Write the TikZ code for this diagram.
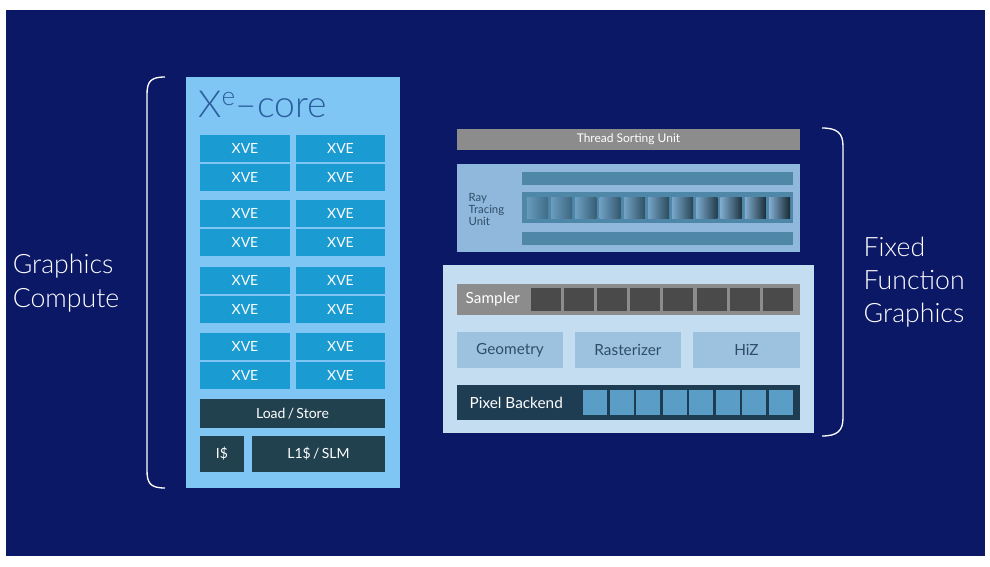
\documentclass[tikz,border=0pt]{standalone}
\usepackage{fontspec}
\setmainfont{Lato}
\newfontfamily\lightfont{Lato Light}
\definecolor{bg}{HTML}{0B1866}
\definecolor{panel}{HTML}{80C6F4}
\definecolor{xve}{HTML}{1A9BD1}
\definecolor{dark}{HTML}{22414F}
\definecolor{tsu}{HTML}{8C8C8C}
\definecolor{rtbox}{HTML}{90B8DC}
\definecolor{rtbar}{HTML}{4E87A8}
\definecolor{ffbox}{HTML}{C4DDF1}
\definecolor{gbox}{HTML}{9DC2E0}
\definecolor{gtext}{HTML}{2E4E68}
\definecolor{samcell}{HTML}{4A4A4A}
\definecolor{pbbar}{HTML}{1E3C52}
\definecolor{pbcell}{HTML}{5A9DC6}
\definecolor{ttl}{HTML}{2A5E9E}
\tikzset{
  blk/.style={draw=none,inner sep=0pt,anchor=north west},
  wtext/.style={text=white,font=\fontsize{10.5}{12}\selectfont},
  brace/.style={draw=white,line width=1pt}
}
\begin{document}
\begin{tikzpicture}[x=0.75pt,y=-0.75pt]
\useasboundingbox (0,0) rectangle (990,567);
\fill[white] (0,0) rectangle (990,567);
\fill[bg] (6,10) rectangle (985,556);
% Xe-core
\fill[panel] (186,77) rectangle (400,488);
\node[anchor=west,text=ttl,font=\lightfont\fontsize{28}{32}\selectfont,inner sep=0pt] (title) at (198,104) {X\textsuperscript{e}–core};
\foreach \y [count=\i] in {135,164,200,229,267,296,333,362}{
  \fill[xve] (200,\y) rectangle (290,\y+27);
  \fill[xve] (296,\y) rectangle (385,\y+27);
  \node[wtext] (xl\i) at (245,\y+13.5) {XVE};
  \node[wtext] (xr\i) at (340.5,\y+13.5) {XVE};
}
\fill[dark] (200,399) rectangle (385,428);
\node[wtext] (ls) at (292.5,413.5) {Load\,/\,Store};
\fill[dark] (200,436) rectangle (244,472);
\node[wtext] (ic) at (222,454) {I\$};
\fill[dark] (252,436) rectangle (385,472);
\node[wtext] (l1) at (318.5,454) {L1\$\,/\,SLM};
% left brace
\draw[brace] (165,77) .. controls (150,77) and (147,82) .. (147,95) -- (147,470) .. controls (147,483) and (150,488) .. (165,488);
\node[align=left,text=white,font=\lightfont\fontsize{20}{25}\selectfont] (gc) at (66,283) {Graphics\\Compute};
% Thread sorting
\fill[tsu] (457,129) rectangle (800,150);
\node[text=white,font=\fontsize{9}{10}\selectfont] (ts) at (628.5,139.5) {Thread Sorting Unit};
% Ray tracing
\fill[rtbox] (457,164) rectangle (800,252);
\node[align=left,text=gtext,font=\fontsize{8.5}{9}\selectfont,anchor=west] (rt) at (464,209) {Ray\\Tracing\\Unit};
\fill[rtbar] (522,172) rectangle (793,185);
\fill[rtbar] (522,192) rectangle (793,223);
\fill[rtbar] (522,232) rectangle (793,245);
\foreach \i in {0,...,10}{
  \pgfmathsetmacro{\xa}{527+\i*24.2}
  \pgfmathsetmacro{\lt}{60-\i*4}
  \pgfmathsetmacro{\dk}{80-\i*5}
  \shade[left color=rtbar!\lt!rtbox, right color=rtbar!\dk!black] (\xa,197) rectangle (\xa+21,218);
}
% Fixed function box
\fill[ffbox] (443,265) rectangle (814,433);
\fill[tsu] (457,284) rectangle (800,315);
\node[text=white,font=\fontsize{11.5}{13}\selectfont,anchor=west] (smp) at (461,299.5) {Sampler};
\foreach \i in {0,...,7}{
  \fill[samcell] (531+\i*33.1,288) rectangle (531+\i*33.1+30,311);
}
\fill[gbox] (457,332) rectangle (563,368);
\fill[gbox] (575,332) rectangle (681,368);
\fill[gbox] (693,332) rectangle (800,368);
\node[text=gtext,font=\fontsize{11.5}{13}\selectfont] (geo) at (510,350) {Geometry};
\node[text=gtext,font=\fontsize{11.5}{13}\selectfont] (ras) at (628,350) {Rasterizer};
\node[text=gtext,font=\fontsize{11.5}{13}\selectfont] (hiz) at (746.5,350) {HiZ};
\fill[pbbar] (457,385) rectangle (800,420);
\node[text=white,font=\fontsize{11.5}{13}\selectfont,anchor=west] (pb) at (465,402.5) {Pixel Backend};
\foreach \i in {0,...,7}{
  \fill[pbcell] (583+\i*26.5,390) rectangle (583+\i*26.5+24,415);
}
% right brace
\draw[brace] (822,128) .. controls (837,128) and (843,133) .. (843,146) -- (843,418) .. controls (843,431) and (837,436) .. (822,436);
\node[align=left,text=white,font=\lightfont\fontsize{20}{25}\selectfont,anchor=west] (ffg) at (859,282) {Fixed\\Function\\Graphics};
\end{tikzpicture}
\end{document}
